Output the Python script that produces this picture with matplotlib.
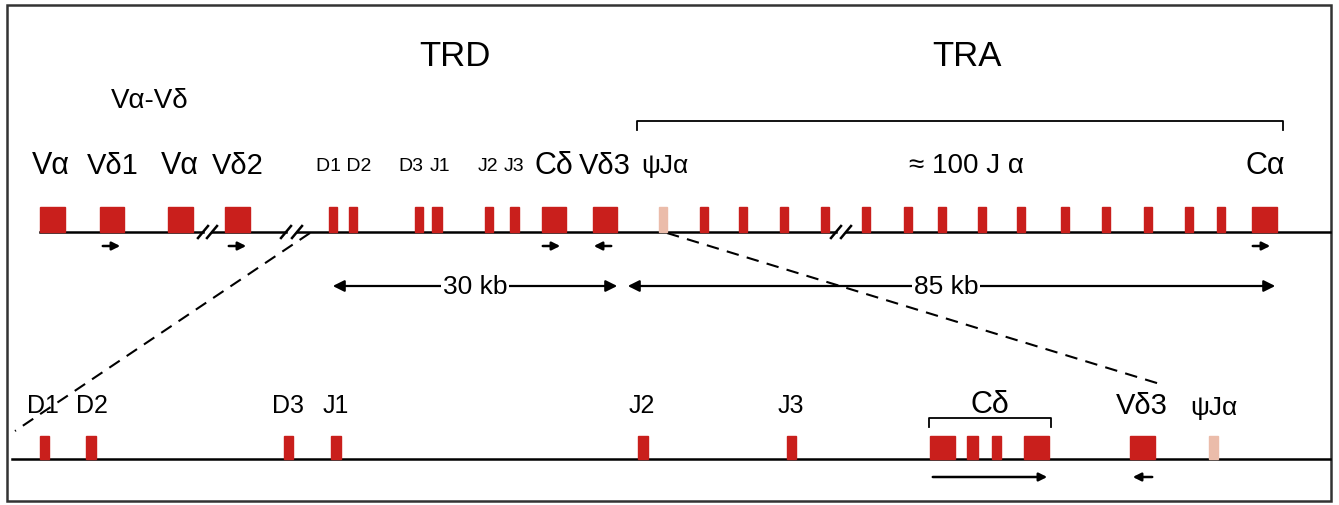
import matplotlib.pyplot as plt
from matplotlib.patches import Rectangle

# top row: exon name, left x, width (map units = pixels of the drawing)
top_names = ['Va', 'Vd1', 'Va', 'Vd2', 'D1', 'D2', 'D3', 'J1', 'J2', 'J3', 'Cd', 'Vd3', 'psiJa',
             'Ja', 'Ja', 'Ja', 'Ja', 'Ja', 'Ja', 'Ja', 'Ja', 'Ja', 'Ja', 'Ja', 'Ja', 'Ja', 'Ja', 'Ca']
top_x = [40, 100, 168, 225, 329, 349, 415, 432, 485, 510, 542, 593, 659,
         700, 739, 780, 821, 862, 904, 938, 978, 1017, 1061, 1102, 1144, 1185, 1217, 1252]
top_w = [25, 24, 25, 25, 8, 8, 8, 10, 8, 9, 24, 24, 8,
         8, 8, 8, 8, 8, 8, 8, 8, 8, 8, 8, 8, 8, 8, 25]

top_labels = ['V\u03b1', 'V\u03b41', 'V\u03b1', 'V\u03b42', 'D1 D2', 'D3', 'J1', 'J2', 'J3',
              'C\u03b4', 'V\u03b43', '\u03c8J\u03b1', '\u2248 100 J \u03b1', 'C\u03b1']
top_label_x = [51, 113, 180, 238, 344, 411, 440, 488, 514, 554, 605, 665, 966, 1265]
top_label_size = [22, 21, 22, 21, 14, 14, 14, 14, 14, 22, 21, 19, 20, 22]

# bottom row (enlarged TRD region)
bot_names = ['D1', 'D2', 'D3', 'J1', 'J2', 'J3', 'Cd1', 'Cd2', 'Cd3', 'Cd4', 'Vd3', 'psiJa']
bot_x = [40, 86, 284, 331, 638, 787, 930, 967, 992, 1024, 1130, 1209]
bot_w = [9, 10, 9, 10, 10, 9, 25, 11, 9, 25, 25, 9]

bot_labels = ['D1', 'D2', 'D3', 'J1', 'J2', 'J3', 'C\u03b4', 'V\u03b43', '\u03c8J\u03b1']
bot_label_x = [43, 92, 288, 336, 642, 791, 990, 1142, 1214]
bot_label_y = [406, 406, 406, 406, 406, 406, 405, 406, 408]
bot_label_size = [18, 18, 18, 18, 18, 18, 22, 21, 19]

# transcription direction arrows: (start, end)
top_arrows = [(100, 123), (226, 249), (540, 563), (614, 591), (1250, 1273)]
bot_arrows = [(930, 1050), (1155, 1130)]

RED = '#c91f1c'
PALE = '#ebbcaa'

plt.rcParams['font.family'] = ['Liberation Sans', 'DejaVu Sans']

fig = plt.figure(figsize=(13.39, 5.06), dpi=100)
ax = fig.add_axes([0, 0, 1, 1])
ax.set_xlim(0, 1339)
ax.set_ylim(506, 0)
ax.axis('off')

# frame
ax.add_patch(Rectangle((7, 6), 1324, 496, fill=False, lw=1.8, ec='#333333'))

# top line with breaks
top_y = 233
for a, b in [(40, 203), (212, 286), (297, 836), (846, 1330)]:
    ax.plot([a, b], [top_y, top_y], color='black', lw=1.8)
for bx in [203, 212, 286, 297, 836, 846]:
    ax.plot([bx - 5, bx + 5], [top_y + 6, top_y - 6], color='black', lw=1.8)

for name, x, w in zip(top_names, top_x, top_w):
    c = PALE if name == 'psiJa' else RED
    ax.add_patch(Rectangle((x, top_y - 25), w, 25, color=c, zorder=3))

for lab, x, s in zip(top_labels, top_label_x, top_label_size):
    ax.text(x, 166, lab, ha='center', va='center', fontsize=s)

ax.text(455, 56, 'TRD', ha='center', va='center', fontsize=25)
ax.text(967, 56, 'TRA', ha='center', va='center', fontsize=25)
ax.text(150, 101, 'V\u03b1-V\u03b4', ha='center', va='center', fontsize=20)

# TRA bracket
ax.plot([637, 637, 1283, 1283], [131, 122, 122, 131], color='black', lw=1.3)

for a, b in top_arrows:
    ax.annotate('', xy=(b, 247), xytext=(a, 247),
                arrowprops=dict(arrowstyle='-|>', color='black', lw=1.8, mutation_scale=12))

# distance arrows
for a, b, lab, cx in [(330, 620, '30 kb', 475), (625, 1278, '85 kb', 946)]:
    ax.annotate('', xy=(b, 287), xytext=(a, 287),
                arrowprops=dict(arrowstyle='<|-|>', color='black', lw=1.6, mutation_scale=17))
    ax.text(cx, 287, lab, ha='center', va='center', fontsize=19,
            bbox=dict(fc='white', ec='none', pad=1))

# dashed zoom lines
ax.plot([310, 15], [234, 432], color='black', lw=1.5, ls=(0, (6, 4)))
ax.plot([667, 1160], [234, 385], color='black', lw=1.5, ls=(0, (6, 4)))

# bottom line
bot_y = 460
ax.plot([12, 1330], [bot_y, bot_y], color='black', lw=1.8)
for name, x, w in zip(bot_names, bot_x, bot_w):
    c = PALE if name == 'psiJa' else RED
    ax.add_patch(Rectangle((x, bot_y - 23), w, 23, color=c, zorder=3))

for lab, x, y, s in zip(bot_labels, bot_label_x, bot_label_y, bot_label_size):
    ax.text(x, y, lab, ha='center', va='center', fontsize=s)

# C delta bracket
ax.plot([929, 929, 1051, 1051], [428, 419, 419, 428], color='black', lw=1.3)

for a, b in bot_arrows:
    ax.annotate('', xy=(b, 478), xytext=(a, 478),
                arrowprops=dict(arrowstyle='-|>', color='black', lw=1.8, mutation_scale=12))

fig.savefig('out.png', dpi=100)
